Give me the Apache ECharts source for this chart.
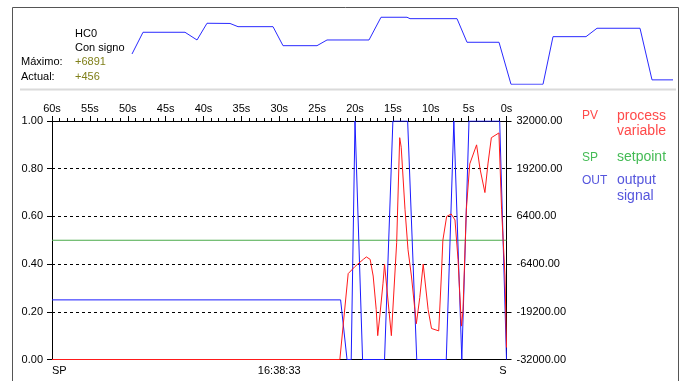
<!DOCTYPE html>
<html><head><meta charset="utf-8">
<script src="https://cdn.jsdelivr.net/npm/echarts@6/dist/echarts.min.js"></script>
<style>html,body{margin:0;padding:0;background:#fff;overflow:hidden}#c{width:685px;height:381px}</style>
</head><body><div id="c"></div>
<script>
// ---- tick labels ----
const topTickLabels = ['60s','55s','50s','45s','40s','35s','30s','25s','20s','15s','10s','5s','0s'];
const bottomLabels = ['SP','16:38:33','S'];
const leftTickLabels = ['0.00','0.20','0.40','0.60','0.80','1.00'];
const rightTickLabels = ['-32000.00','-19200.00','-6400.00','6400.00','19200.00','32000.00'];

// ---- main trend (time in seconds, negative = seconds ago; values 0..1) ----
const pvT = [-60,-22.0,-20.9,-20.0,-18.9,-18.5,-18.0,-17.6,-17.2,-17.0,-16.7,-16.3,-16.1,-15.2,-14.5,-14.1,-13.9,-13.4,-13.0,-12.55,-12.1,-11.9,-11.45,-11.0,-10.35,-9.9,-8.95,-8.6,-8.4,-7.9,-7.3,-6.8,-6.4,-5.95,-5.75,-5.3,-4.85,-3.95,-3.5,-2.85,-2.45,-2.0,-1.0,-0.65,-0.2,0];
const pvV = [0,0,0.36,0.39,0.42,0.43,0.42,0.35,0.21,0.10,0.19,0.32,0.40,0.10,0.49,0.93,0.89,0.63,0.46,0.35,0.21,0.15,0.26,0.40,0.21,0.13,0.12,0.35,0.50,0.60,0.61,0.585,0.42,0.14,0.20,0.63,0.82,0.90,0.80,0.70,0.82,0.93,0.95,0.63,0.35,0.05];
const outT = [-60,-21.9,-21.05,-20.5,-20.0,-19.85,-19.0,-16.1,-15.0,-13.05,-11.85,-7.95,-6.95,-5.9,-4.95,-0.9,0];
const outV = [0.25,0.25,0,0,1,1,0,0,1,1,0,0,1,0,1,1,0];
const spT = [-60,0];
const spV = [0.5,0.5];

// ---- top sparkline (HC0 history) ----
const sparkS = [2,13,55,67,77,100,108,143,153,187,197,239,251,277,280,327,337,369,381,413,423,456,467,510,522,543];
const sparkV = [3116,5348,5348,4556,6274,6253,5924,5924,3970,3970,4556,4556,6891,6891,6747,6747,4320,4320,0,0,4896,4896,5760,5760,456,456];

const zip = (a,b) => a.map((v,i)=>[v,b[i]]);
const F = 'Liberation Sans, Arial, sans-serif';
const chart = echarts.init(document.getElementById('c'), null, {renderer:'canvas'});

const txt = (x,y,text,fill,size) => ({type:'text', x:x, y:y, silent:true,
  style:{text:text, fill:fill, font: size+'px '+F, verticalAlign:'middle', align:'left'}});

chart.setOption({
  animation:false,
  backgroundColor:'#ffffff',
  grid:[
    {left:52, top:121, width:454.5, height:238.5},
    {left:130, top:16.2, width:545, height:68.1}
  ],
  xAxis:[
    {type:'value', gridIndex:0, position:'top', min:-60, max:0, interval:5,
     axisLine:{show:true, onZero:false, lineStyle:{color:'#000', width:1}},
     axisTick:{show:true, length:5, lineStyle:{color:'#000'}},
     minorTick:{show:true, splitNumber:5, length:3, lineStyle:{color:'#000'}},
     splitLine:{show:false},
     axisLabel:{margin:7, color:'#000', fontSize:11, fontFamily:'Liberation Sans Narrow, Arial Narrow, sans-serif',
       formatter:v=>topTickLabels[Math.round((v+60)/5)]}},
    {type:'value', gridIndex:0, position:'bottom', min:-60, max:0, interval:30,
     axisLine:{show:true, onZero:false, lineStyle:{color:'#000', width:1}},
     axisTick:{show:false}, splitLine:{show:false},
     axisLabel:{margin:6, color:'#000', fontSize:11, fontFamily:F,
       alignMinLabel:'left', alignMaxLabel:'right',
       formatter:v=>bottomLabels[Math.round((v+60)/30)]}},
    {type:'value', gridIndex:1, min:0, max:545, show:false}
  ],
  yAxis:[
    {type:'value', gridIndex:0, position:'left', min:0, max:1, interval:0.2,
     axisLine:{show:true, onZero:false, lineStyle:{color:'#000'}},
     axisTick:{show:true, length:5, lineStyle:{color:'#000'}},
     splitLine:{show:true, showMinLine:false, showMaxLine:false, lineStyle:{color:'#000', type:[3,3], width:1}},
     axisLabel:{margin:9, color:'#000', fontSize:11, fontFamily:F,
       formatter:v=>leftTickLabels[Math.round(v/0.2)]}},
    {type:'value', gridIndex:0, position:'right', min:0, max:1, interval:0.2,
     axisLine:{show:true, onZero:false, lineStyle:{color:'#000'}},
     axisTick:{show:true, length:5, lineStyle:{color:'#000'}},
     splitLine:{show:false},
     axisLabel:{margin:10, color:'#000', fontSize:11, fontFamily:F,
       formatter:v=>rightTickLabels[Math.round(v/0.2)]}},
    {type:'value', gridIndex:1, min:0, max:7000, show:false}
  ],
  series:[
    {name:'SP', type:'line', xAxisIndex:0, yAxisIndex:0, data:zip(spT,spV), symbol:'none',
     lineStyle:{color:'#4aaa4a', width:1}},
    {name:'OUT', type:'line', xAxisIndex:0, yAxisIndex:0, data:zip(outT,outV), symbol:'none',
     lineStyle:{color:'#1a1aff', width:1}},
    {name:'PV', type:'line', xAxisIndex:0, yAxisIndex:0, data:zip(pvT,pvV), symbol:'none',
     lineStyle:{color:'#ff1a1a', width:1}},
    {name:'HC0', type:'line', xAxisIndex:2, yAxisIndex:2, data:zip(sparkS,sparkV), symbol:'none',
     lineStyle:{color:'#2a2aff', width:1}}
  ],
  graphic:[
    {type:'rect', silent:true, shape:{x:12.5, y:7.5, width:666, height:400},
     style:{fill:'none', stroke:'#555', lineWidth:1}},
    {type:'line', silent:true, shape:{x1:20, y1:89.5, x2:676, y2:89.5},
     style:{stroke:'#dadada', lineWidth:2}},
    txt(75,33.5,'HC0','#000',11),
    txt(75,48,'Con signo','#000',11),
    txt(21,62,'Máximo:','#000',11),
    txt(75,62,'+6891','#80801a',11),
    txt(21,77,'Actual:','#000',11),
    txt(75,77,'+456','#80801a',11),
    txt(582,115.5,'PV','#ff4a4a',12),
    txt(617,116,'process','#ff4a4a',14),
    txt(617,131.5,'variable','#ff4a4a',14),
    txt(582,158,'SP','#44bb55',12),
    txt(617,157,'setpoint','#44bb55',14),
    txt(582,180.5,'OUT','#5555dd',12),
    txt(617,180.5,'output','#5555dd',14),
    txt(617,196.5,'signal','#5555dd',14)
  ]
});
</script>
</body></html>
